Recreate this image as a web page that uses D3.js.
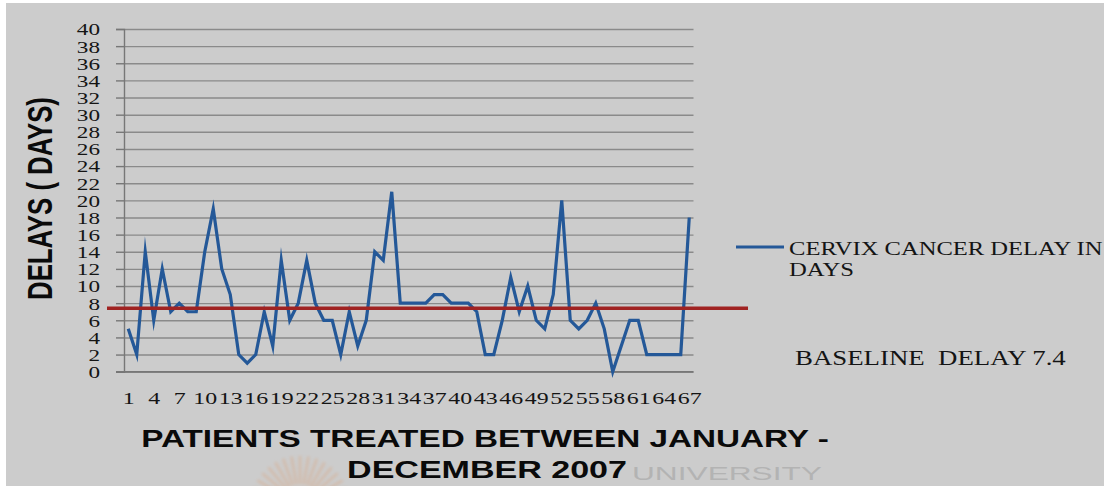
<!DOCTYPE html>
<html>
<head>
<meta charset="utf-8">
<script src="https://cdn.jsdelivr.net/npm/d3@7"></script>
<style>
  html, body { margin: 0; padding: 0; background: #ffffff; }
  svg { display: block; }
</style>
</head>
<body>
<svg id="chart" width="1104" height="486"></svg>
<script>
// Delay (days) for each cervix cancer patient treated Jan–Dec 2007
const patients = d3.range(1, 68);
const delays = [5, 2, 14, 6, 12, 7, 8, 7, 7, 14,
                19, 12, 9, 2, 1, 2, 7, 3, 13, 6,
                8, 13, 8, 6, 6, 2, 7, 3, 6, 14,
                13, 21, 8, 8, 8, 8, 9, 9, 8, 8,
                8, 7, 2, 2, 6, 11, 7, 10, 6, 5,
                9, 20, 6, 5, 6, 8, 5, 0, 3, 6,
                6, 2, 2, 2, 2, 2, 18];
const baselineDelay = 7.4;
const yTicks = d3.range(0, 41, 2);
const xTickLabels = patients.filter(p => (p - 1) % 3 === 0);

const seriesName = ["CERVIX CANCER DELAY IN", "DAYS"];
const baselineLabel = "BASELINE  DELAY 7.4";
const yTitle = "DELAYS ( DAYS)";
const xTitle = ["PATIENTS TREATED BETWEEN JANUARY -", "DECEMBER 2007"];

const svg = d3.select("#chart");
const W = 1104, H = 486;
const plot = { left: 124, right: 693.5, top: 29, bottom: 371.7 };
const stretch = 1.34; // wide glyph proportion used by all labels

// page background
svg.append("rect").attr("x", 6).attr("y", 3).attr("width", W - 6).attr("height", H - 3)
  .attr("fill", "#cccccc");

const defs = svg.append("defs");
const soft = defs.append("filter").attr("id", "soft").attr("x", "-5%").attr("y", "-200%")
  .attr("width", "110%").attr("height", "500%");
soft.append("feGaussianBlur").attr("stdDeviation", 0.9);
const haze = defs.append("filter").attr("id", "haze").attr("x", "-20%").attr("y", "-20%")
  .attr("width", "140%").attr("height", "140%");
haze.append("feGaussianBlur").attr("stdDeviation", 1.6);

function fitText(sel, width) {
  const len = sel.node().getComputedTextLength();
  return width / len;
}

// faint watermark at the foot of the page
const wm = svg.append("g");
const sun = wm.append("g").attr("transform", "translate(300,505)")
  .attr("opacity", 0.28).attr("filter", "url(#haze)");
d3.range(-80, 81, 10).forEach(a => {
  const r = a * Math.PI / 180;
  sun.append("line")
    .attr("x1", Math.sin(r) * 22).attr("y1", -Math.cos(r) * 22)
    .attr("x2", Math.sin(r) * 48).attr("y2", -Math.cos(r) * 48)
    .attr("stroke", "#e0945f").attr("stroke-width", 3).attr("stroke-linecap", "round");
});
sun.append("circle").attr("r", 18).attr("fill", "#e6a57c");

const uni = wm.append("text").text("UNIVERSITY")
  .attr("font-family", "Liberation Sans, Arial, sans-serif").attr("font-size", 18)
  .attr("fill", "#b3b3b3");
uni.attr("transform", `translate(632,480) scale(${fitText(uni, 190)},1)`);

const x = d3.scalePoint().domain(patients).range([plot.left, plot.right]).padding(0.5);
const y = d3.scaleLinear().domain([0, 40]).range([plot.bottom, plot.top]);

// horizontal gridlines
const grid = svg.append("g").attr("transform", `translate(${plot.left},0)`)
  .call(d3.axisLeft(y).tickValues(yTicks).tickSize(-(plot.right - plot.left)).tickFormat(""));
grid.select(".domain").remove();
grid.selectAll(".tick line").attr("stroke", "#8a8a8a").attr("stroke-width", 1.4);

// y axis with outside tick marks and labels
const yAxis = svg.append("g").attr("transform", `translate(${plot.left},0)`)
  .call(d3.axisLeft(y).tickValues(yTicks).tickSize(8).tickFormat(d3.format("d")));
yAxis.select(".domain").attr("stroke", "#777").attr("stroke-width", 1.4);
yAxis.selectAll(".tick line").attr("stroke", "#777").attr("stroke-width", 1.4);
yAxis.selectAll(".tick text")
  .attr("x", 0).attr("dy", "0.34em")
  .attr("transform", `translate(-24,0) scale(${stretch},1)`)
  .attr("font-family", "Liberation Serif, Times New Roman, serif")
  .attr("font-size", 17.3).attr("fill", "#141414");

// x axis line and category labels
const xAxis = svg.append("g").attr("transform", `translate(0,${plot.bottom})`)
  .call(d3.axisBottom(x).tickValues(xTickLabels).tickSize(0));
xAxis.select(".domain").attr("stroke", "#777").attr("stroke-width", 1.6)
  .attr("d", `M${plot.left - 8},0H${plot.right}`);
xAxis.selectAll(".tick text")
  .attr("y", 0).attr("dy", 0)
  .attr("transform", `translate(0,32.5) scale(${stretch + 0.04},1)`)
  .attr("font-family", "Liberation Serif, Times New Roman, serif")
  .attr("font-size", 17.3).attr("fill", "#141414");

// delay series
const line = d3.line().x((d, i) => x(patients[i])).y(d => y(d));
svg.append("path").datum(delays)
  .attr("d", line)
  .attr("fill", "none").attr("stroke", "#245898").attr("stroke-width", 3.2)
  .attr("stroke-linejoin", "miter").attr("stroke-miterlimit", 10);

// baseline mean delay
svg.append("line")
  .attr("x1", 107).attr("x2", 748)
  .attr("y1", y(baselineDelay) + 1.5).attr("y2", y(baselineDelay) + 1.5)
  .attr("stroke", "#7a7a7a").attr("stroke-width", 3.5).attr("opacity", 0.5)
  .attr("filter", "url(#soft)");
svg.append("line")
  .attr("x1", 107).attr("x2", 748)
  .attr("y1", y(baselineDelay)).attr("y2", y(baselineDelay))
  .attr("stroke", "#a02322").attr("stroke-width", 3.6);

// legend
svg.append("line").attr("x1", 736).attr("x2", 784).attr("y1", 247).attr("y2", 247)
  .attr("stroke", "#245898").attr("stroke-width", 3);
const leg1 = svg.append("text").text(seriesName[0])
  .attr("font-family", "Liberation Serif, Times New Roman, serif")
  .attr("font-size", 18.6).attr("fill", "#141414");
leg1.attr("transform", `translate(789,255) scale(${fitText(leg1, 313.5)},1)`);
const leg2 = svg.append("text").text(seriesName[1])
  .attr("font-family", "Liberation Serif, Times New Roman, serif")
  .attr("font-size", 18.6).attr("fill", "#141414");
leg2.attr("transform", `translate(789,276) scale(${fitText(leg2, 65)},1)`);

const base = svg.append("text").text(baselineLabel)
  .attr("font-family", "Liberation Serif, Times New Roman, serif")
  .attr("font-size", 20).attr("fill", "#141414")
  .attr("xml:space", "preserve").style("white-space", "pre");
base.attr("transform", `translate(795,365) scale(${fitText(base, 271)},1)`);

// axis titles
const yt = svg.append("text").text(yTitle)
  .attr("font-family", "Liberation Sans, Arial, sans-serif").attr("font-weight", "bold")
  .attr("font-size", 26).attr("fill", "#0a0a0a").attr("text-anchor", "middle");
yt.attr("transform", `translate(51.5,198.5) rotate(-90) scale(${fitText(yt, 203)},1.34)`);

const xt1 = svg.append("text").text(xTitle[0])
  .attr("font-family", "Liberation Sans, Arial, sans-serif").attr("font-weight", "bold")
  .attr("font-size", 24).attr("fill", "#0a0a0a").attr("text-anchor", "middle");
xt1.attr("transform", `translate(485,446.5) scale(${fitText(xt1, 688)},1)`);
const xt2 = svg.append("text").text(xTitle[1])
  .attr("font-family", "Liberation Sans, Arial, sans-serif").attr("font-weight", "bold")
  .attr("font-size", 24).attr("fill", "#0a0a0a").attr("text-anchor", "middle");
xt2.attr("transform", `translate(487,477.5) scale(${fitText(xt2, 280)},1)`);
</script>
</body>
</html>
